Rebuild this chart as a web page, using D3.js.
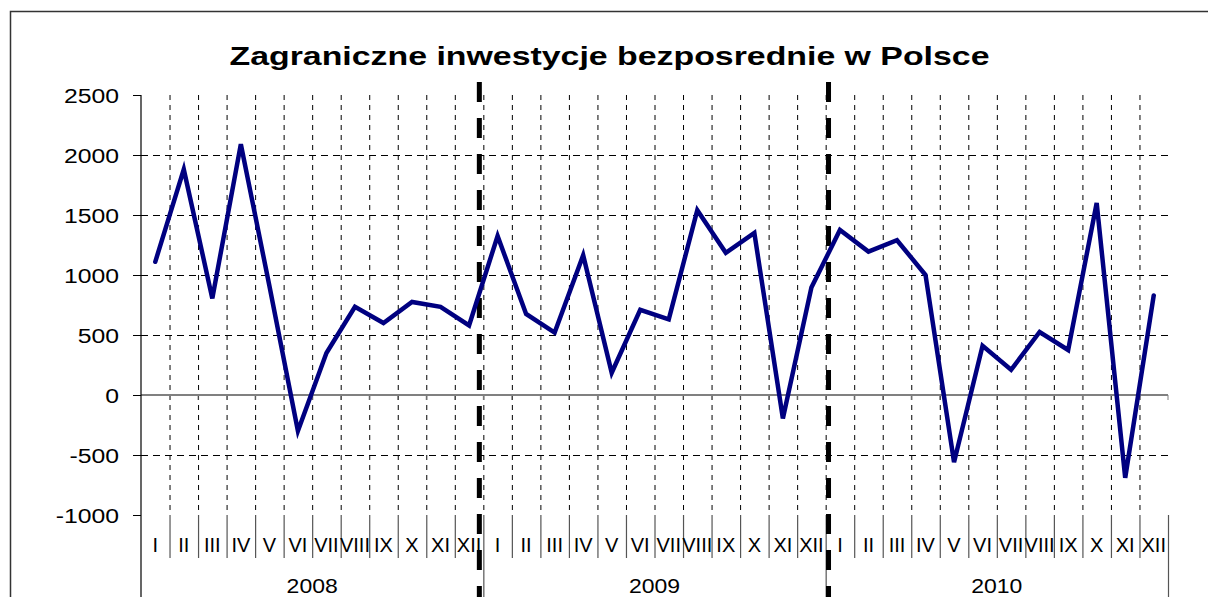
<!doctype html>
<meta charset="utf-8">
<style>
body { margin: 0; background: #fff; }
svg { display: block; font-family: "Liberation Sans", Arial, sans-serif; }
</style>
<script src="https://cdn.jsdelivr.net/npm/d3@7/dist/d3.min.js"></script>
<body>
<script>

var w = 1208, h = 597;

// data
var years = ["2008", "2009", "2010"];
var months = ["I", "II", "III", "IV", "V", "VI", "VII", "VIII", "IX", "X", "XI", "XII"];
var values2008 = [1110, 1880, 805, 2090, 910, -300, 350, 735, 600, 775, 735, 580];
var values2009 = [1325, 675, 520, 1165, 185, 710, 630, 1540, 1185, 1350, -195, 895];
var values2010 = [1375, 1195, 1290, 1000, -560, 410, 210, 525, 375, 1600, -690, 830];
var yTicks = [2500, 2000, 1500, 1000, 500, 0, -500, -1000];
var gridValues = [2000, 1500, 1000, 500, -500];
// thick dashed year markers, in month units from the start
var dividers = [11.86, 24.1];

var values = values2008.concat(values2009, values2010);
var n = values.length;

var svg = d3.select("body")
  .append("svg")
    .attr("width", w)
    .attr("height", h);

var x = d3.scaleLinear().domain([0, n]).range([141, 1168]);
var y = d3.scaleLinear().domain([-1000, 2500]).range([515, 95]);

// outer chart frame
svg.append("rect")
    .attr("x", 10.5)
    .attr("y", 11.5)
    .attr("width", 1300)
    .attr("height", 700)
    .style("fill", "none")
    .style("stroke", "#333")
    .style("stroke-width", 1.5);

// title
svg.append("text")
    .attr("x", 609.5)
    .attr("y", 65)
    .attr("text-anchor", "middle")
    .attr("textLength", 760)
    .attr("lengthAdjust", "spacingAndGlyphs")
    .style("font-size", "26px")
    .style("font-weight", "bold")
    .text("Zagraniczne inwestycje bezposrednie w Polsce");

// vertical dashed gridlines at month boundaries
var bounds = d3.range(1, n);
svg.append("g").selectAll("line")
  .data(bounds)
  .join("line")
    .attr("x1", d => x(d) + 0.5)
    .attr("x2", d => x(d) + 0.5)
    .attr("y1", y(2500))
    .attr("y2", y(-1000))
    .style("stroke", "#000")
    .style("stroke-width", 1)
    .style("stroke-dasharray", "5,5");

// horizontal dashed gridlines
svg.append("g").selectAll("line")
  .data(gridValues)
  .join("line")
    .attr("x1", x(0))
    .attr("x2", x(n))
    .attr("y1", d => Math.round(y(d)) + 0.5)
    .attr("y2", d => Math.round(y(d)) + 0.5)
    .style("stroke", "#000")
    .style("stroke-width", 1)
    .style("stroke-dasharray", "7,5");

// zero line (category axis) with small ticks
svg.append("line")
    .attr("x1", x(0))
    .attr("x2", x(n))
    .attr("y1", y(0))
    .attr("y2", y(0))
    .style("stroke", "#808080")
    .style("stroke-width", 2);
svg.append("g").selectAll("line")
  .data(d3.range(1, n + 1))
  .join("line")
    .attr("x1", d => x(d))
    .attr("x2", d => x(d))
    .attr("y1", y(0))
    .attr("y2", y(0) + 5)
    .style("stroke", "#808080")
    .style("stroke-width", 1);

// y axis
var yAxis = svg.append("g")
    .attr("transform", "translate(" + x(0) + ",0)")
    .call(d3.axisLeft(y).tickValues(yTicks).tickFormat(d => String(d)).tickSize(8).tickSizeOuter(0));
yAxis.select(".domain").remove();
yAxis.selectAll("line").style("stroke", "#000");
yAxis.selectAll("text")
    .attr("x", 0)
    .attr("dy", "0.36em")
    .attr("transform", "translate(-22,0) scale(1.18,1)")
    .style("font-size", "21px")
    .style("font-family", "'Liberation Sans', Arial, sans-serif")
    .style("fill", "#000");

svg.append("line")
    .attr("x1", x(0))
    .attr("x2", x(0))
    .attr("y1", y(2500))
    .attr("y2", h)
    .style("stroke", "#000")
    .style("stroke-width", 1.2);

// month separators and labels (multi-level category axis)
svg.append("g").selectAll("line")
  .data(d3.range(1, n + 1))
  .join("line")
    .attr("x1", d => x(d) + 0.5)
    .attr("x2", d => x(d) + 0.5)
    .attr("y1", y(-1000))
    .attr("y2", d => d % 12 === 0 ? h : 558)
    .style("stroke", "#555")
    .style("stroke-width", 1.2);

var monthLabels = [];
years.forEach(function(yr, j) {
  months.forEach(function(m, i) { monthLabels.push({ idx: j * 12 + i, label: m }); });
});

svg.append("g").selectAll("text")
  .data(monthLabels)
  .join("text")
    .attr("x", d => x(d.idx + 0.5))
    .attr("y", 552)
    .attr("text-anchor", "middle")
    .style("font-size", "20px")
    .text(d => d.label);

svg.append("g").selectAll("text")
  .data(years)
  .join("text")
    .attr("transform", (d, i) => "translate(" + x(i * 12 + 6) + ",593) scale(1.15,1)")
    .attr("text-anchor", "middle")
    .style("font-size", "20px")
    .text(d => d);

// thick dashed year markers
svg.append("g").selectAll("line")
  .data(dividers)
  .join("line")
    .attr("x1", d => x(d))
    .attr("x2", d => x(d))
    .attr("y1", 82)
    .attr("y2", h)
    .style("stroke", "#000")
    .style("stroke-width", 5)
    .style("stroke-dasharray", "20,16");

// the series
var line = d3.line()
    .x((d, i) => x(i + 0.5))
    .y(d => y(d));

svg.append("path")
    .datum(values)
    .attr("d", line)
    .style("fill", "none")
    .style("stroke", "#000080")
    .style("stroke-width", 4.5)
    .style("stroke-linejoin", "miter")
    .style("stroke-linecap", "round");

</script>
